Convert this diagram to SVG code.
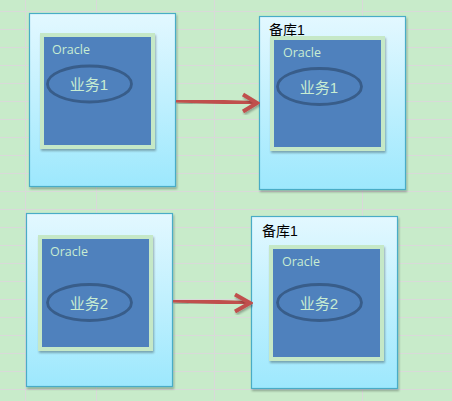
<svg xmlns="http://www.w3.org/2000/svg" width="452" height="401" viewBox="0 0 452 401">
<defs>
<linearGradient id="boxg" x1="0" y1="0" x2="0" y2="1">
<stop offset="0" stop-color="#e3f8ff"/>
<stop offset="1" stop-color="#9de8fd"/>
</linearGradient>
<filter id="sh" x="-10%" y="-10%" width="130%" height="130%">
<feGaussianBlur in="SourceAlpha" stdDeviation="1.2"/>
<feOffset dx="1" dy="2" result="b"/>
<feComponentTransfer><feFuncA type="linear" slope="0.3"/></feComponentTransfer>
<feMerge><feMergeNode/><feMergeNode in="SourceGraphic"/></feMerge>
</filter>
</defs>
<style>
.bg{fill:#c8ebca}
.grid line{stroke:#d9d9d9;stroke-width:1}
.box{fill:url(#boxg);stroke:#4aacc6;stroke-width:1.2;filter:url(#sh)}
.inner{fill:#4f81bd;stroke:#c5e8c7;stroke-width:4;filter:url(#sh)}
.ora{font-family:"Open Sans","Liberation Sans",sans-serif;font-size:12.5px;fill:#c8ecd2}
.ell{fill:none;stroke:#385d8a;stroke-width:2.8}
.biz{font-family:"Liberation Sans","Noto Sans CJK SC",sans-serif;font-size:15px;fill:#c8ecd2;text-anchor:middle}
.lbl{font-family:"Liberation Sans","Noto Sans CJK SC",sans-serif;font-size:14px;fill:#000}
.arr{fill:none;stroke:#c0504d;stroke-width:4;stroke-linejoin:miter;filter:url(#sh)}
</style>
<rect class="bg" x="0" y="0" width="452" height="401"/>
<g class="grid">
<line x1="25.5" y1="0" x2="25.5" y2="401"/>
<line x1="96.5" y1="0" x2="96.5" y2="401"/>
<line x1="214.5" y1="0" x2="214.5" y2="401"/>
<line x1="362.5" y1="0" x2="362.5" y2="401"/>
<line x1="0" y1="11.5" x2="452" y2="11.5"/>
<line x1="0" y1="29.5" x2="452" y2="29.5"/>
<line x1="0" y1="47.5" x2="452" y2="47.5"/>
<line x1="0" y1="65.5" x2="452" y2="65.5"/>
<line x1="0" y1="83.5" x2="452" y2="83.5"/>
<line x1="0" y1="101.5" x2="452" y2="101.5"/>
<line x1="0" y1="119.5" x2="452" y2="119.5"/>
<line x1="0" y1="137.5" x2="452" y2="137.5"/>
<line x1="0" y1="155.5" x2="452" y2="155.5"/>
<line x1="0" y1="173.5" x2="452" y2="173.5"/>
<line x1="0" y1="191.5" x2="452" y2="191.5"/>
<line x1="0" y1="209.5" x2="452" y2="209.5"/>
<line x1="0" y1="227.5" x2="452" y2="227.5"/>
<line x1="0" y1="245.5" x2="452" y2="245.5"/>
<line x1="0" y1="263.5" x2="452" y2="263.5"/>
<line x1="0" y1="281.5" x2="452" y2="281.5"/>
<line x1="0" y1="299.5" x2="452" y2="299.5"/>
<line x1="0" y1="317.5" x2="452" y2="317.5"/>
<line x1="0" y1="335.5" x2="452" y2="335.5"/>
<line x1="0" y1="353.5" x2="452" y2="353.5"/>
<line x1="0" y1="371.5" x2="452" y2="371.5"/>
<line x1="0" y1="389.5" x2="452" y2="389.5"/>
</g>
<g id="primary1">
<rect class="box" x="29.5" y="13.5" width="146" height="173"/>
<rect class="inner" x="42" y="35" width="111" height="112"/>
<text class="ora" x="52" y="54">Oracle</text>
<ellipse class="ell" cx="89.5" cy="84" rx="42" ry="18"/>
<text class="biz" x="89" y="90">业务1</text>
</g>
<g id="standby1">
<rect class="box" x="259.5" y="16.5" width="146" height="173"/>
<text class="lbl" x="269" y="35">备库1</text>
<rect class="inner" x="272" y="38" width="111" height="111"/>
<text class="ora" x="283" y="57">Oracle</text>
<ellipse class="ell" cx="319.5" cy="86.5" rx="42" ry="18"/>
<text class="biz" x="319" y="92.5">业务1</text>
</g>
<g id="primary2">
<rect class="box" x="26.5" y="213.5" width="146" height="173"/>
<rect class="inner" x="40" y="237" width="111" height="112"/>
<text class="ora" x="50" y="256">Oracle</text>
<ellipse class="ell" cx="89.5" cy="302.5" rx="42" ry="18"/>
<text class="biz" x="89" y="308.5">业务2</text>
</g>
<g id="standby2">
<rect class="box" x="251.5" y="216.5" width="146" height="172"/>
<text class="lbl" x="262" y="236">备库1</text>
<rect class="inner" x="271" y="247" width="111" height="112"/>
<text class="ora" x="282" y="266">Oracle</text>
<ellipse class="ell" cx="319.5" cy="302.5" rx="42" ry="18"/>
<text class="biz" x="319" y="308.5">业务2</text>
</g>
<g id="connectors">
<path class="arr" d="M176 100.5 L256 103"/>
<path class="arr" d="M243 94.5 L257 103 L243 111.5"/>
<path class="arr" d="M173 300.5 L249 303"/>
<path class="arr" d="M235 294.5 L250 303 L235 311.5"/>
</g>
</svg>
